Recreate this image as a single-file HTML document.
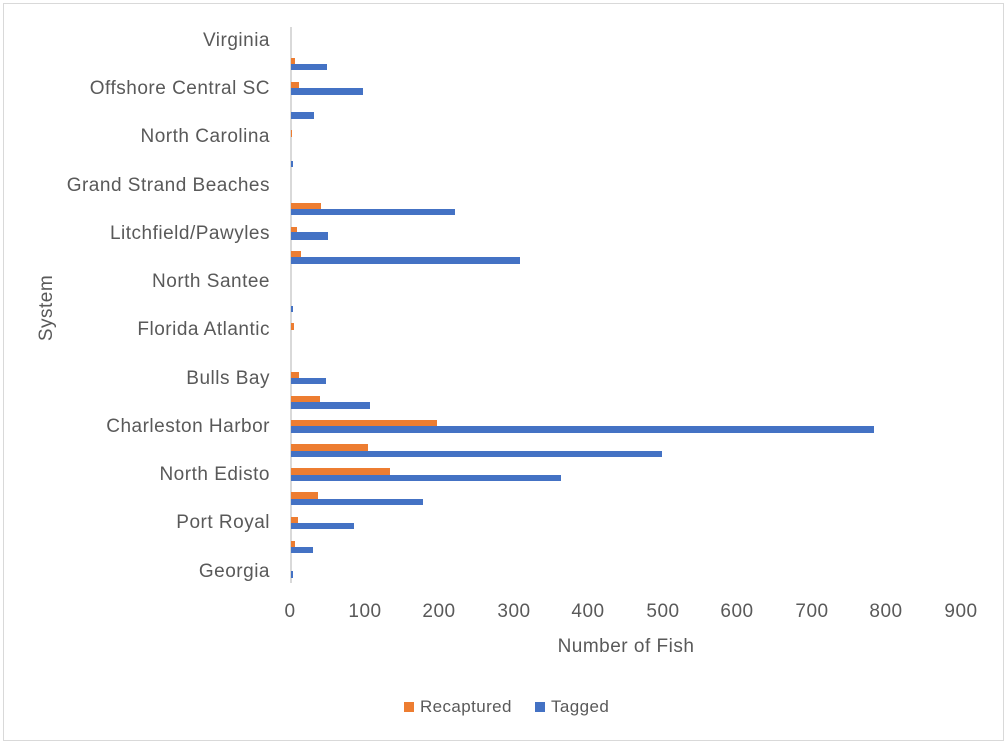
<!DOCTYPE html><html><head><style>
body{margin:0;width:1007px;height:744px;background:#fff;font-family:"Liberation Sans",sans-serif;color:#595959;position:relative;overflow:hidden}
.f{position:absolute;left:3px;top:3px;width:999px;height:736px;border:1px solid #d9d9d9}
.b{position:absolute;left:291px}
.o{background:#ed7d31}.t{background:#4472c4}
.l{position:absolute;right:737px;font-size:19px;letter-spacing:0.5px;white-space:nowrap;transform:translateY(-50%)}
.x{position:absolute;top:601px;font-size:19px;letter-spacing:0.5px;transform:translateX(-50%)}
</style></head><body>
<div class="f"></div>
<div style="position:absolute;left:290px;top:27px;width:2px;height:556px;background:#d9d9d9"></div>
<div class="b o" style="top:58px;height:6px;width:4px"></div><div class="b t" style="top:64px;height:6px;width:36px"></div>
<div class="b o" style="top:82px;height:6px;width:8px"></div><div class="b t" style="top:88px;height:7px;width:72px"></div>
<div class="b t" style="top:112px;height:7px;width:23px"></div>
<div class="b o" style="top:130px;height:7px;width:1px"></div>
<div class="b t" style="top:161px;height:6px;width:2px"></div>
<div class="b o" style="top:203px;height:6px;width:30px"></div><div class="b t" style="top:209px;height:6px;width:164px"></div>
<div class="b o" style="top:227px;height:5px;width:6px"></div><div class="b t" style="top:232px;height:8px;width:37px"></div>
<div class="b o" style="top:251px;height:6px;width:10px"></div><div class="b t" style="top:257px;height:7px;width:229px"></div>
<div class="b t" style="top:306px;height:6px;width:2px"></div>
<div class="b o" style="top:323px;height:7px;width:3px"></div>
<div class="b o" style="top:372px;height:6px;width:8px"></div><div class="b t" style="top:378px;height:6px;width:35px"></div>
<div class="b o" style="top:396px;height:6px;width:29px"></div><div class="b t" style="top:402px;height:7px;width:79px"></div>
<div class="b o" style="top:420px;height:6px;width:146px"></div><div class="b t" style="top:426px;height:7px;width:583px"></div>
<div class="b o" style="top:444px;height:7px;width:77px"></div><div class="b t" style="top:451px;height:6px;width:371px"></div>
<div class="b o" style="top:468px;height:7px;width:99px"></div><div class="b t" style="top:475px;height:6px;width:270px"></div>
<div class="b o" style="top:492px;height:7px;width:27px"></div><div class="b t" style="top:499px;height:6px;width:132px"></div>
<div class="b o" style="top:517px;height:6px;width:7px"></div><div class="b t" style="top:523px;height:6px;width:63px"></div>
<div class="b o" style="top:541px;height:6px;width:4px"></div><div class="b t" style="top:547px;height:6px;width:22px"></div>
<div class="b t" style="top:571px;height:7px;width:2px"></div>
<div class="l" style="top:41px">Virginia</div>
<div class="l" style="top:89px">Offshore Central SC</div>
<div class="l" style="top:137px">North Carolina</div>
<div class="l" style="top:186px">Grand Strand Beaches</div>
<div class="l" style="top:234px">Litchfield/Pawyles</div>
<div class="l" style="top:282px">North Santee</div>
<div class="l" style="top:330px">Florida Atlantic</div>
<div class="l" style="top:379px">Bulls Bay</div>
<div class="l" style="top:427px">Charleston Harbor</div>
<div class="l" style="top:475px">North Edisto</div>
<div class="l" style="top:523px">Port Royal</div>
<div class="l" style="top:572px">Georgia</div>
<div class="x" style="left:290px">0</div><div class="x" style="left:365px">100</div><div class="x" style="left:439px">200</div><div class="x" style="left:514px">300</div><div class="x" style="left:588px">400</div><div class="x" style="left:663px">500</div><div class="x" style="left:737px">600</div><div class="x" style="left:812px">700</div><div class="x" style="left:886px">800</div><div class="x" style="left:961px">900</div>
<div style="position:absolute;left:626px;top:636px;font-size:19px;letter-spacing:0.5px;transform:translateX(-50%);white-space:nowrap">Number of Fish</div>
<div style="position:absolute;left:47px;top:308px;font-size:19px;letter-spacing:0.5px;transform:translate(-50%,-50%) rotate(-90deg)">System</div>
<div style="position:absolute;left:404px;top:702px;width:10px;height:10px;background:#ed7d31"></div>
<div style="position:absolute;left:420px;top:697px;font-size:17px;letter-spacing:0.4px">Recaptured</div>
<div style="position:absolute;left:535px;top:702px;width:10px;height:10px;background:#4472c4"></div>
<div style="position:absolute;left:551px;top:697px;font-size:17px;letter-spacing:0.4px">Tagged</div>
</body></html>
